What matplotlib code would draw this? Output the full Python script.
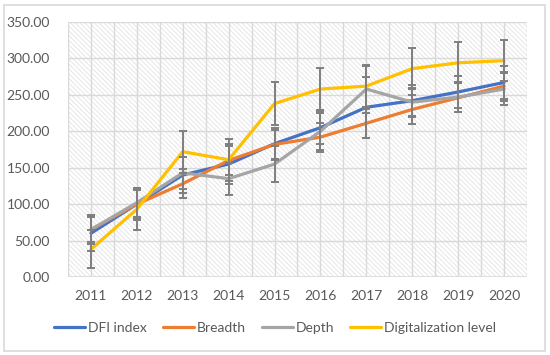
import numpy as np
import matplotlib

matplotlib.use("Agg")
import matplotlib.pyplot as plt
from matplotlib.patches import Rectangle

# --- data ---
years = ["2011", "2012", "2013", "2014", "2015", "2016", "2017", "2018", "2019", "2020"]
dfi_index = [60, 100, 140, 155, 183, 205, 233, 242, 254, 267]
breadth = [65, 100, 128, 160, 182, 192, 211, 230, 246, 262]
depth = [65, 102, 143, 135, 155, 200, 258, 240, 247, 258]
digital = [38, 93, 172, 161, 238, 258, 262, 286, 294, 297]

dfi_err = [24, 22, 25, 28, 22, 22, 42, 21, 22, 22]
breadth_err = [17, 20, 20, 20, 20, 20, 20, 20, 20, 20]
depth_err = [20, 20, 22, 22, 25, 25, 33, 20, 20, 22]
digital_err = [26, 29, 29, 29, 29, 29, 28, 28, 28, 28]

series = [
    ("DFI index", dfi_index, dfi_err, "#4472C4"),
    ("Breadth", breadth, breadth_err, "#ED7D31"),
    ("Depth", depth, depth_err, "#A5A5A5"),
    ("Digitalization level", digital, digital_err, "#FFC000"),
]

plt.rcParams["font.family"] = ["Lato", "DejaVu Sans"]
plt.rcParams["hatch.linewidth"] = 0.6
txt = "#595959"
grid_c = "#d9d9d9"

fig = plt.figure(figsize=(5.5, 3.55), dpi=100)
ax = fig.add_axes([0.1236, 0.2197, 0.8346, 0.7183])

# hatched plot area
ax.add_patch(Rectangle((0, 0), 1, 1, transform=ax.transAxes, facecolor="white",
                       edgecolor="#e3e3e3", lw=0, hatch="\\" * 7, zorder=0))

x = np.arange(len(years))
for gx in np.arange(-0.5, len(years), 0.5):
    ax.axvline(gx, color=grid_c, lw=1.0, zorder=0.5)
for gy in range(50, 351, 50):
    ax.axhline(gy, color=grid_c, lw=1.0, zorder=0.5)
ax.axhline(0, color=grid_c, lw=1.2, zorder=0.6)

for name, vals, err, col in series:
    ax.plot(x, vals, color=col, lw=2.3, label=name, zorder=2,
            solid_capstyle="round", solid_joinstyle="round")
for name, vals, err, col in series:
    ax.errorbar(x, vals, yerr=err, fmt="none", ecolor="#7f7f7f", elinewidth=1.4,
                capsize=3, capthick=1.4, zorder=3)

ax.set_xlim(-0.5, len(years) - 0.5)
ax.set_ylim(0, 350)
ax.set_xticks(x)
ax.set_xticklabels(years)
ax.set_yticks(range(0, 351, 50))
ax.set_yticklabels([f"{v:.2f}" for v in range(0, 351, 50)])
ax.tick_params(length=0, labelsize=10, labelcolor=txt)
ax.tick_params(axis="x", pad=9)
ax.tick_params(axis="y", pad=13)
for s in ax.spines.values():
    s.set_visible(False)

fig.legend(loc="lower center", bbox_to_anchor=(0.5, 0.025), ncol=4, frameon=False,
           fontsize=10, labelcolor=txt, handlelength=2.2, handletextpad=0.2,
           columnspacing=1.2)

fig.patches.append(Rectangle((0.008, 0.012), 0.982, 0.975, transform=fig.transFigure,
                             fill=False, edgecolor="#d9d9d9", lw=1.2))

fig.savefig("out.png", dpi=100)
